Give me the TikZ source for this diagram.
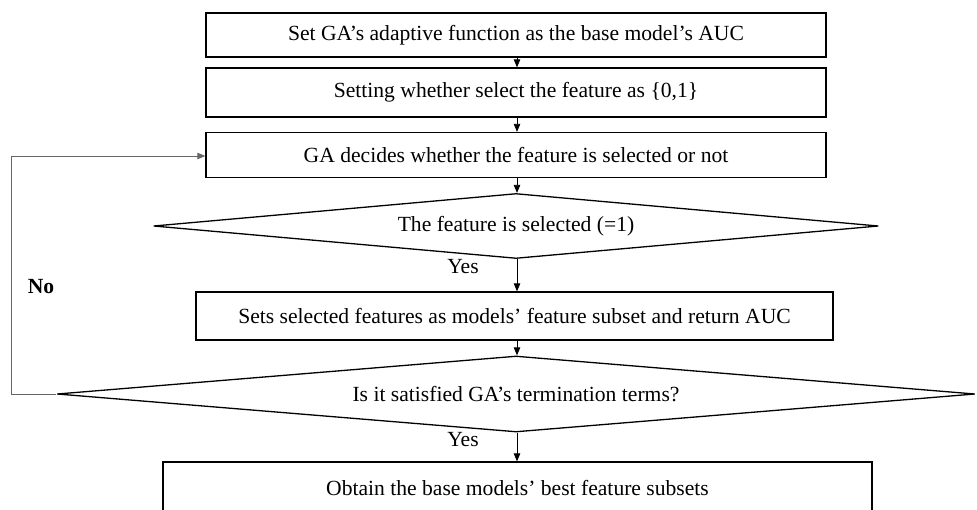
\documentclass[tikz,border=0pt]{standalone}
\usepackage{fontspec}
\setmainfont{Liberation Serif}
\usetikzlibrary{shapes.geometric,arrows.meta}
\begin{document}
\begin{tikzpicture}[x=1pt,y=-1pt,
  every node/.style={font=\fontsize{21.6}{24}\selectfont},
  procbox/.style={draw=black,line width=1.3pt,rectangle,inner sep=0pt},
  decide/.style={draw=black,line width=1.3pt,diamond,aspect=11,inner sep=0pt},
  conn/.style={draw=black,line width=0.8pt,-{Triangle[length=8pt,width=6.5pt]}},
  loopconn/.style={draw=black!60,line width=0.9pt,-{Triangle[length=8pt,width=6.5pt]}},
  lbl/.style={inner sep=0pt}]
\useasboundingbox (0,0) rectangle (977,509);
\node[procbox,minimum width=620pt,minimum height=44pt] (b1) at (516,35) {Set GA’s adaptive function as the base model’s AUC};
\node[procbox,minimum width=620pt,minimum height=49pt] (b2) at (516,92.5) {Setting whether select the feature as \{0,1\}};
\node[procbox,minimum width=620pt,minimum height=45pt] (b3) at (516,155) {GA decides whether the feature is selected or not};
\node[decide,minimum width=725pt,minimum height=65pt] (d1) at (516,226) {The feature is selected (=1)};
\node[procbox,minimum width=637pt,minimum height=48pt] (b4) at (514.5,316) {Sets selected features as models’ feature subset and return AUC};
\node[decide,minimum width=918pt,minimum height=76pt] (d2) at (516,394) {Is it satisfied GA’s termination terms?};
\node[procbox,minimum width=709pt,minimum height=52pt] (b5) at (517.5,488) {Obtain the base models’ best feature subsets};
\node[lbl] (y1) at (463,267) {Yes};
\node[lbl] (y2) at (463,440) {Yes};
\node[lbl,font=\fontsize{21.6}{24}\selectfont\bfseries] (no) at (41,287) {No};
\coordinate (lb) at (11,394);
\coordinate (lt) at (11,156);
\draw[conn] (b1.south -| 517,0) -- (b2.north -| 517,0);
\draw[conn] (b2.south -| 517,0) -- (b3.north -| 517,0);
\draw[conn] (b3.south -| 517,0) -- (d1.north -| 517,0);
\draw[conn] (d1.south -| 517,0) -- (b4.north -| 517,0);
\draw[conn] (b4.south -| 517,0) -- (d2.north -| 517,0);
\draw[conn] (d2.south -| 517,0) -- (b5.north -| 517,0);
\draw[loopconn] (d2.west) -- (lb) -- (lt) -- (b3.west |- lt);
\end{tikzpicture}
\end{document}
